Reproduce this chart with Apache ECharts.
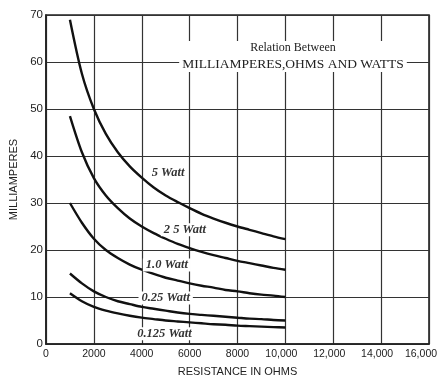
<!DOCTYPE html>
<html>
<head>
<meta charset="utf-8">
<script src="https://cdn.jsdelivr.net/npm/echarts@6/dist/echarts.min.js"></script>
<style>
  html, body { margin: 0; padding: 0; background: #fff; }
  #chart { width: 438px; height: 377px; }
</style>
</head>
<body>
<div id="chart"></div>
<script>
// resistance in ohms, every 500 ohms
const ohms = [1000, 1500, 2000, 2500, 3000, 3500, 4000, 4500, 5000, 5500,
  6000, 6500, 7000, 7500, 8000, 8500, 9000, 9500, 10000];

// milliamperes for each wattage curve
const watt5 = [69, 57.5, 50, 44.7, 40.8, 37.8, 35.4, 33.3, 31.6, 30.2,
  28.9, 27.7, 26.7, 25.8, 25, 24.3, 23.6, 22.9, 22.3];
const watt25 = [48.5, 40.8, 35.3, 31.6, 28.9, 26.7, 25, 23.6, 22.4, 21.3,
  20.4, 19.6, 18.9, 18.3, 17.7, 17.2, 16.7, 16.2, 15.8];
const watt10 = [30, 25.8, 22.4, 20, 18.3, 16.9, 15.8, 14.9, 14.1, 13.5,
  12.9, 12.4, 12, 11.5, 11.2, 10.8, 10.5, 10.3, 10];
const watt025 = [15, 12.9, 11.2, 10, 9.1, 8.5, 7.9, 7.5, 7.1, 6.7,
  6.4, 6.2, 6, 5.8, 5.6, 5.4, 5.3, 5.1, 5];
const watt0125 = [10.8, 9.1, 7.9, 7.1, 6.5, 6, 5.6, 5.3, 5, 4.8,
  4.6, 4.4, 4.2, 4.1, 3.9, 3.8, 3.7, 3.6, 3.5];

const curveNames = ['5 Watt', '2 5 Watt', '1.0 Watt', '0.25 Watt', '0.125 Watt'];
const curveValues = [watt5, watt25, watt10, watt025, watt0125];

// where each curve label sits (data units)
const labelSpots = [[5100, 36.4], [5800, 24.3], [5050, 16.8], [5000, 9.8], [4950, 2.2]];

const chart = echarts.init(document.getElementById('chart'), null, { renderer: 'canvas' });

const sansFont = '"Liberation Sans", Arial, sans-serif';
const serifFont = '"Liberation Serif", "DejaVu Serif", serif';

const series = curveNames.map((name, i) => ({
  name: name,
  type: 'line',
  smooth: 0.3,
  symbol: 'none',
  data: ohms.map((r, j) => [r, curveValues[i][j]]),
  lineStyle: { color: '#111', width: 2.4 },
  z: 3,
  markPoint: {
    symbol: 'rect',
    symbolSize: 1,
    itemStyle: { color: 'transparent' },
    data: [{ coord: labelSpots[i], value: name }],
    label: {
      show: true,
      position: 'inside',
      formatter: name,
      fontFamily: serifFont,
      fontStyle: 'italic',
      fontWeight: 'bold',
      fontSize: 12.5,
      color: '#333',
      backgroundColor: '#fff',
      padding: [0, 3],
    },
    z: 5,
  },
}));

const xTickStyle = { fontFamily: sansFont, fontSize: 10.5, color: '#222' };

chart.setOption({
  animation: false,
  backgroundColor: '#fff',
  title: {
    text: 'Relation Between',
    subtext: 'MILLIAMPERES,OHMS AND WATTS',
    left: 290,
    top: 41,
    textAlign: 'center',
    itemGap: 3,
    padding: [1, 3],
    backgroundColor: '#fff',
    textStyle: { fontFamily: serifFont, fontSize: 12, fontWeight: 'normal', color: '#222' },
    subtextStyle: { fontFamily: serifFont, fontSize: 13.5, color: '#222' },
  },
  grid: {
    left: 46,
    right: 9,
    top: 15,
    bottom: 33,
    containLabel: false,
    outerBoundsMode: 'none',
    show: true,
    borderColor: '#222',
    borderWidth: 1.6,
  },
  xAxis: {
    type: 'value',
    min: 0,
    max: 16000,
    interval: 2000,
    name: 'RESISTANCE IN OHMS',
    nameLocation: 'middle',
    nameGap: 22,
    nameTextStyle: { fontFamily: sansFont, fontSize: 11, color: '#222' },
    axisLine: { lineStyle: { color: '#222', width: 1.6 } },
    axisTick: { show: false },
    axisLabel: {
      ...xTickStyle,
      margin: 5,
      showMaxLabel: true,
      hideOverlap: false,
      formatter: (v) => {
        if (v >= 16000) return '{end|' + v.toLocaleString('en-US') + '}';
        if (v >= 10000) return '{big|' + v.toLocaleString('en-US') + '}';
        return String(v);
      },
      rich: {
        big: { ...xTickStyle, padding: [0, 8, 0, 0] },
        end: { ...xTickStyle, padding: [0, 16, 0, 0] },
      },
    },
    splitLine: { show: true, lineStyle: { color: '#333', width: 1.2 } },
  },
  yAxis: {
    type: 'value',
    min: 0,
    max: 70,
    interval: 10,
    name: 'MILLIAMPERES',
    nameLocation: 'middle',
    nameGap: 27,
    nameTextStyle: { fontFamily: sansFont, fontSize: 11, color: '#222' },
    axisLine: { lineStyle: { color: '#222', width: 1.6 } },
    axisTick: { show: false },
    axisLabel: { fontFamily: sansFont, fontSize: 11.5, color: '#222', margin: 3 },
    splitLine: { show: true, lineStyle: { color: '#333', width: 1.2 } },
  },
  series: series,
});
</script>
</body>
</html>
